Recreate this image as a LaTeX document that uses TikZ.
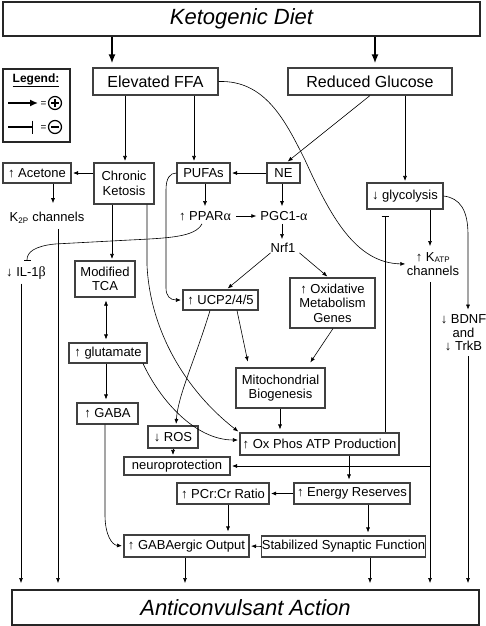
\documentclass[tikz,border=0pt]{standalone}
\usepackage{fontspec}
\setmainfont{Liberation Sans}
\newfontfamily\grk{Liberation Serif}
\usetikzlibrary{arrows.meta}
\newcommand\fsm{\fontsize{13}{14.5}\selectfont}
\newcommand\fmd{\fontsize{16}{19}\selectfont}
\newcommand\flg{\fontsize{22}{26}\selectfont\itshape}
\newcommand\sbs[1]{\textsubscript{\fontsize{8}{8}\selectfont #1}}
\newcommand\galpha{{\grk\fontsize{14}{14}\selectfont α}}
\newcommand\gbeta{{\grk\fontsize{14}{14}\selectfont β}}
\begin{document}
\begin{tikzpicture}[x=1pt,y=-1pt,
 box/.style={draw=black!75, line width=1.1pt, fill=white, inner sep=0pt, align=center, font=\fsm},
 bigbox/.style={draw=black!85, line width=2pt, fill=white, inner sep=0pt, align=center, font=\flg},
 txt/.style={inner sep=0pt, align=center, font=\fsm},
 arr/.style={-{Latex[length=5pt,width=4pt]}, line width=0.6pt, shorten >=1.5pt},
 dbl/.style={{Latex[length=5pt,width=4pt]}-{Latex[length=5pt,width=4pt]}, line width=0.6pt, shorten >=3pt, shorten <=3pt},
 inh/.style={-{Bar[width=7pt,line width=0.8pt]}, line width=0.6pt},
 big/.style={-{Latex[length=9pt,width=7pt]}, line width=1.8pt, shorten >=4pt},
]
\useasboundingbox (0,0) rectangle (485,626);
\fill[white] (0,0) rectangle (485,626);

% boxes
\node[bigbox, minimum width=477, minimum height=34] (kd) at (241.5,19) {Ketogenic Diet};
\node[box, font=\fmd, minimum width=125, minimum height=27] (ffa) at (155.5,81.5) {Elevated FFA};
\node[box, font=\fmd, minimum width=164, minimum height=27] (rg) at (370,81.5) {Reduced Glucose};
\node[box, minimum width=68, minimum height=20] (acet) at (37,173) {↑ Acetone};
\node[box, minimum width=60, minimum height=41] (ck) at (124,183.5) {Chronic\\Ketosis};
\node[box, minimum width=53, minimum height=20] (pufa) at (203.5,173) {PUFAs};
\node[box, minimum width=33, minimum height=20] (ne) at (283.5,173) {NE};
\node[box, minimum width=76, minimum height=26] (gly) at (405,196) {↓ glycolysis};
\node[txt] (k2p) at (47,218) {K\sbs{2P} channels};
\node[txt] (ppar) at (205,216) {↑ PPAR\galpha};
\node[txt] (pgc) at (284,216) {PGC1-\galpha};
\node[txt] (nrf) at (283,248) {Nrf1};
\node[txt] (katp) at (433,264) {↑ K\sbs{ATP}\\channels};
\node[txt] (il) at (26,273) {↓ IL-1\gbeta};
\node[box, minimum width=60, minimum height=36] (tca) at (105,279) {Modified\\TCA};
\node[box, minimum width=75, minimum height=20] (ucp) at (220.5,300) {↑ UCP2/4/5};
\node[box, minimum width=85, minimum height=50] (oxg) at (332.5,303) {↑ Oxidative\\Metabolism\\Genes};
\node[txt, font=\fontsize{13}{13.5}\selectfont] (bdnf) at (463.5,333) {↓ BDNF\\and\\↓ TrkB};
\node[box, minimum width=78, minimum height=20] (glu) at (108,353) {↑ glutamate};
\node[box, minimum width=89, minimum height=40] (mito) at (280.5,388) {Mitochondrial\\Biogenesis};
\node[box, minimum width=61, minimum height=21] (gaba) at (107.5,413.5) {↑ GABA};
\node[box, minimum width=50, minimum height=22] (ros) at (173,437) {↓ ROS};
\node[box, minimum width=159, minimum height=22] (oxp) at (319.5,444) {↑ Ox Phos ATP Production};
\node[box, minimum width=106, minimum height=18] (neuro) at (177,466) {neuroprotection};
\node[box, minimum width=92, minimum height=21] (pcr) at (223,493.5) {↑ PCr:Cr Ratio};
\node[box, minimum width=116, minimum height=21] (energy) at (352,493.5) {↑ Energy Reserves};
\node[box, minimum width=125, minimum height=22] (gabaergic) at (186.5,546) {↑ GABAergic Output};
\node[box, minimum width=163, minimum height=21] (stab) at (343.5,546.5) {Stabilized Synaptic Function};
\node[bigbox, minimum width=467, minimum height=35] (anti) at (245.5,607.5) {Anticonvulsant Action};

% legend
\node[draw=black!85, line width=1.6pt, minimum width=67, minimum height=73, inner sep=0pt] (leg) at (36.5,105.5) {};
\node[inner sep=0pt, font=\fontsize{12}{14}\selectfont\bfseries] (legt) at (36,80) {\underline{Legend:}};
\coordinate (la1) at (8,103);
\coordinate (la2) at (38,103);
\coordinate (lb1) at (8,127);
\coordinate (lb2) at (33,127);
\draw[-{Latex[length=8pt,width=7pt]}, line width=1.5pt] (la1) -- (la2);
\draw[-{Bar[width=13pt,line width=1.5pt]}, line width=1.5pt] (lb1) -- (lb2);
\node[inner sep=0pt, font=\fontsize{10}{10}\selectfont] (leq1) at (43.5,104) {=};
\node[inner sep=0pt, font=\fontsize{10}{10}\selectfont] (leq2) at (43.5,128) {=};
\node[circle, draw, line width=1.2pt, minimum size=13, inner sep=0pt] (lp) at (55,103) {};
\node[circle, draw, line width=1.2pt, minimum size=13, inner sep=0pt] (lm) at (55,127) {};
\draw[line width=1.2pt] ([xshift=-4pt]lp.center) -- ([xshift=4pt]lp.center);
\draw[line width=1.2pt] ([yshift=-4pt]lp.center) -- ([yshift=4pt]lp.center);
\draw[line width=1.2pt] ([xshift=-4pt]lm.center) -- ([xshift=4pt]lm.center);

% top arrows
\draw[big] (112,0 |- kd.south) -- (112,0 |- ffa.north);
\draw[big] (375,0 |- kd.south) -- (375,0 |- rg.north);

% from FFA
\draw[arr] (125,0 |- ffa.south) -- (125,0 |- ck.north);
\draw[arr] (194,0 |- ffa.south) -- (194,0 |- pufa.north);
\draw[arr] (ffa.east) .. controls (265,80) and (285,120) .. (305,160) .. controls (330,215) and (355,263) .. (katp.west);

% from reduced glucose
\draw[arr] (370,0 |- rg.south) -- ([xshift=3pt]ne.north);
\draw[arr] (405,0 |- rg.south) -- (gly.north);

% chronic ketosis
\draw[arr] (ck.west |- acet.east) -- (acet.east);
\draw[arr, shorten >=9pt] (53,0 |- acet.south) -- (53,0 |- k2p.north);
\draw[arr] (112,0 |- ck.south) -- (112,0 |- tca.north);
\draw[arr] (147,0 |- ck.south) -- (147,265) .. controls (150,330) and (185,390) .. (oxp.north west);
\draw[arr, shorten <=5pt, shorten >=6pt] (58,0 |- k2p.south) -- (58,0 |- anti.north);

% PUFAs, NE, PPAR
\draw[arr] (ne.west) -- (pufa.east);
\draw[arr, shorten >=5pt] (205,0 |- pufa.south) -- (205,0 |- ppar.north);
\draw[arr] (pufa.west) .. controls (170,173) and (166,178) .. (166,190) -- (166,288) .. controls (166,296) and (170,300) .. (ucp.west);
\draw[arr, shorten >=5pt] (282,0 |- ne.south) -- (282,0 |- pgc.north);
\draw[arr, shorten <=5pt, shorten >=4pt] (ppar.east) -- (pgc.west);
\draw[arr, shorten <=3pt, shorten >=4pt] (282,0 |- pgc.south) -- (282,0 |- nrf.north);
\draw[arr] (nrf.south west) -- ([xshift=6pt]ucp.north);
\draw[arr] ([xshift=4pt]nrf.south east) -- ([xshift=-4pt]oxg.north);
\draw[inh, shorten >=6pt] ([xshift=-3pt,yshift=-3pt]ppar.south) .. controls (195,237) and (170,238) .. (130,240) -- (55,244) .. controls (35,246) and (27,252) .. (27,0 |- il.north);
\draw[arr, shorten <=4pt, shorten >=6pt] (21,0 |- il.south) -- (21,0 |- anti.north);

% TCA, glutamate, GABA
\draw[dbl] (106,0 |- tca.south) -- (106,0 |- glu.north);
\draw[arr, shorten >=3pt] (106,0 |- glu.south) -- (106,0 |- gaba.north);
\draw[arr] (143,0 |- glu.south) .. controls (160,400) and (195,440) .. ([yshift=4pt]oxp.west);
\draw[arr] (105,0 |- gaba.south) -- (105,515) .. controls (105,535) and (112,545) .. (gabaergic.west);

% UCP, Mito
\draw[arr] (210,0 |- ucp.south) .. controls (195,360) and (178,395) .. (176,0 |- ros.north);
\draw[arr, shorten >=6pt] (237,0 |- ucp.south) -- (249,0 |- mito.north);
\draw[arr, shorten >=6pt] (333,0 |- oxg.south) -- (307,0 |- mito.north);
\draw[arr, shorten >=3pt] (280,0 |- mito.south) -- (280,0 |- oxp.north);
\draw[arr] (173,0 |- ros.south) -- (173,0 |- neuro.north);

% energy
\draw[arr, shorten >=3pt] (349,0 |- oxp.south) -- (349,0 |- energy.north);
\draw[arr] (energy.west) -- (pcr.east);
\draw[arr, shorten >=3pt] (228,0 |- pcr.south) -- (228,0 |- gabaergic.north);
\draw[arr, shorten >=3pt] (368,0 |- energy.south) -- (368,0 |- stab.north);
\draw[arr] (stab.west) -- (gabaergic.east);
\draw[arr, shorten >=6pt] (185,0 |- gabaergic.south) -- (185,0 |- anti.north);
\draw[arr, shorten >=6pt] (370,0 |- stab.south) -- (370,0 |- anti.north);

% glycolysis
\draw[inh, shorten >=6pt] (385,0 |- oxp.north) -- (385,0 |- gly.south);
\draw[arr, shorten >=6pt] (430,0 |- gly.south) -- (430,0 |- katp.north);
\draw[arr, shorten <=6pt, shorten >=6pt] (430,0 |- katp.south) -- (430,0 |- anti.north);
\coordinate (j1) at (430,466);
\draw[arr] (j1) -- (neuro.east);
\draw[arr, shorten >=5pt] (gly.east) .. controls (460,198) and (468,210) .. (468,235) -- (468,0 |- bdnf.north);
\draw[arr, shorten <=5pt, shorten >=6pt] (468,0 |- bdnf.south) -- (468,0 |- anti.north);
\end{tikzpicture}
\end{document}
